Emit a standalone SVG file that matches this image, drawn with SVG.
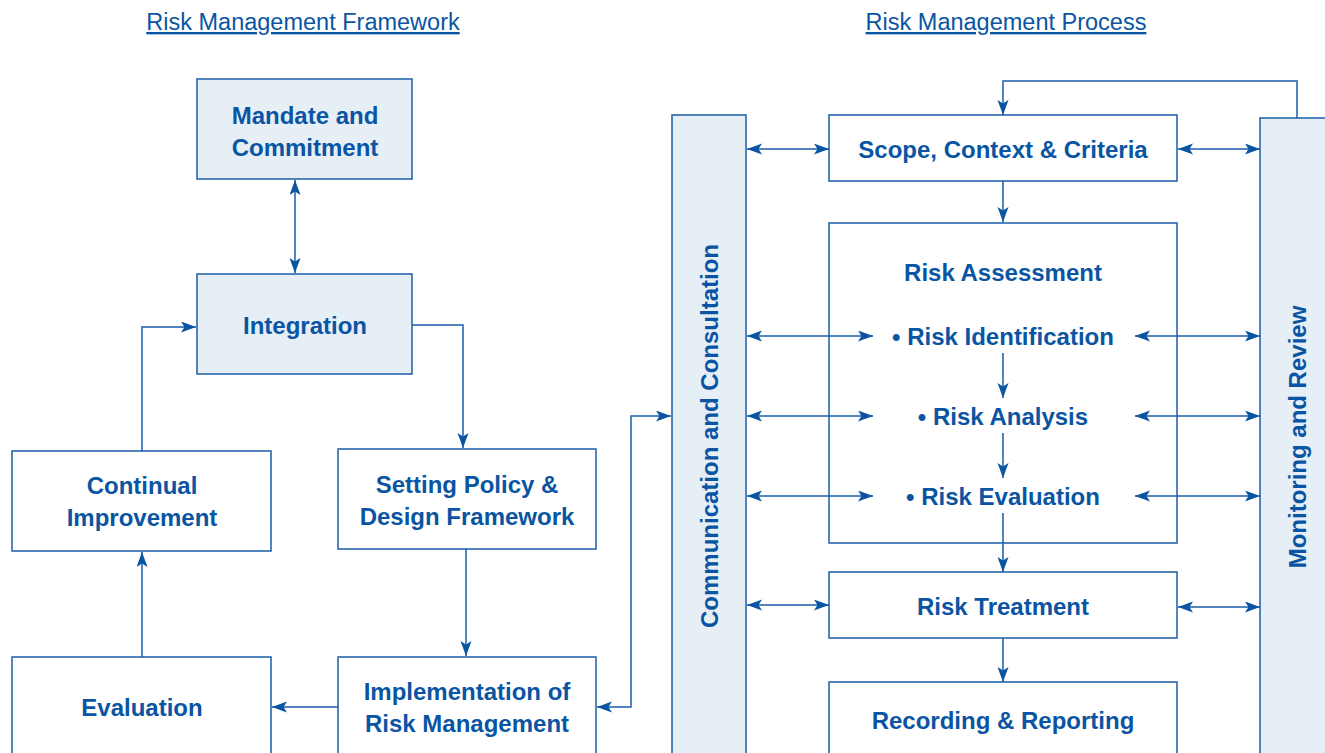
<svg xmlns="http://www.w3.org/2000/svg" width="1325" height="753" viewBox="0 0 1325 753">
  <style>
    .box { fill: #ffffff; stroke: #1a5ea8; stroke-width: 1.5; }
    .shade { fill: #e6eef6; stroke: #1a5ea8; stroke-width: 1.5; }
    .lbl { font-family: "Liberation Sans", Arial, sans-serif; font-weight: bold; font-size: 24px; fill: #0a55a3; text-anchor: middle; }
    .title { font-family: "Liberation Sans", Arial, sans-serif; font-size: 23.5px; fill: #0a55a3; text-anchor: middle; text-decoration: underline; }
    .conn path { fill: none; stroke: #1a5ea8; stroke-width: 1.5; }
    .one { marker-end: url(#arrow); }
    .two { marker-start: url(#arrow); marker-end: url(#arrow); }
  </style>
  <defs>
    <marker id="arrow" markerUnits="userSpaceOnUse" markerWidth="16" markerHeight="12" refX="15" refY="5.5" orient="auto-start-reverse">
      <path d="M0,0 L15,5.5 L0,11 L3.5,5.5 z" fill="#0a55a3"/>
    </marker>
  </defs>

  <rect width="1325" height="753" fill="#ffffff"/>

  <!-- section headings -->
  <text class="title" x="303" y="30">Risk Management Framework</text>
  <text class="title" x="1006" y="30">Risk Management Process</text>

  <!-- framework cycle -->
  <g id="mandate">
    <rect class="shade" x="197" y="79" width="215" height="100"/>
    <text class="lbl" x="305" y="124">Mandate and</text>
    <text class="lbl" x="305" y="156">Commitment</text>
  </g>
  <g id="integration">
    <rect class="shade" x="197" y="274" width="215" height="100"/>
    <text class="lbl" x="305" y="334">Integration</text>
  </g>
  <g id="continual-improvement">
    <rect class="box" x="12" y="451" width="259" height="100"/>
    <text class="lbl" x="142" y="494">Continual</text>
    <text class="lbl" x="142" y="526">Improvement</text>
  </g>
  <g id="setting-policy">
    <rect class="box" x="338" y="449" width="258" height="100"/>
    <text class="lbl" x="467" y="493">Setting Policy &amp;</text>
    <text class="lbl" x="467" y="525">Design Framework</text>
  </g>
  <g id="evaluation">
    <rect class="box" x="12" y="657" width="259" height="110"/>
    <text class="lbl" x="142" y="716">Evaluation</text>
  </g>
  <g id="implementation">
    <rect class="box" x="338" y="657" width="258" height="110"/>
    <text class="lbl" x="467" y="700">Implementation of</text>
    <text class="lbl" x="467" y="732">Risk Management</text>
  </g>

  <!-- process side -->
  <g id="communication">
    <rect class="shade" x="672" y="115" width="74" height="660"/>
    <text class="lbl" transform="translate(718,436) rotate(-90)" x="0" y="0">Communication and Consultation</text>
  </g>
  <g id="monitoring">
    <rect class="shade" x="1260" y="118" width="80" height="660"/>
    <text class="lbl" transform="translate(1306,437) rotate(-90)" x="0" y="0">Monitoring and Review</text>
  </g>
  <g id="scope">
    <rect class="box" x="829" y="115" width="348" height="66"/>
    <text class="lbl" x="1003" y="158">Scope, Context &amp; Criteria</text>
  </g>
  <g id="risk-assessment">
    <rect class="box" x="829" y="223" width="348" height="320"/>
    <text class="lbl" x="1003" y="281">Risk Assessment</text>
    <text class="lbl" x="1003" y="345">• Risk Identification</text>
    <text class="lbl" x="1003" y="425">• Risk Analysis</text>
    <text class="lbl" x="1003" y="505">• Risk Evaluation</text>
  </g>
  <g id="risk-treatment">
    <rect class="box" x="829" y="572" width="348" height="66"/>
    <text class="lbl" x="1003" y="615">Risk Treatment</text>
  </g>
  <g id="recording">
    <rect class="box" x="829" y="682" width="348" height="90"/>
    <text class="lbl" x="1003" y="729">Recording &amp; Reporting</text>
  </g>

  <g id="connectors" class="conn">
    <!-- framework -->
    <path class="two" d="M295,180 V273"/>
    <path class="one" d="M412,325 H463 V448"/>
    <path class="one" d="M142,451 V327 H196"/>
    <path class="one" d="M466,549 V656"/>
    <path class="one" d="M338,707 H272"/>
    <path class="one" d="M142,657 V552"/>
    <path class="two" d="M597,707 H631 V416 H671"/>
    <!-- process -->
    <path class="two" d="M747,149 H829"/>
    <path class="two" d="M1178,149 H1260"/>
    <path class="one" d="M1297,118 V81 H1003 V115"/>
    <path class="one" d="M1003,181 V222"/>
    <path class="two" d="M747,336 H873"/>
    <path class="two" d="M1135,336 H1260"/>
    <path class="two" d="M747,416 H873"/>
    <path class="two" d="M1135,416 H1260"/>
    <path class="two" d="M747,496 H873"/>
    <path class="two" d="M1135,496 H1260"/>
    <path class="one" d="M1003,353 V398"/>
    <path class="one" d="M1003,433 V478"/>
    <path class="one" d="M1003,513 V572"/>
    <path class="two" d="M747,605 H829"/>
    <path class="two" d="M1178,607 H1260"/>
    <path class="one" d="M1003,638 V682"/>
  </g>
</svg>
